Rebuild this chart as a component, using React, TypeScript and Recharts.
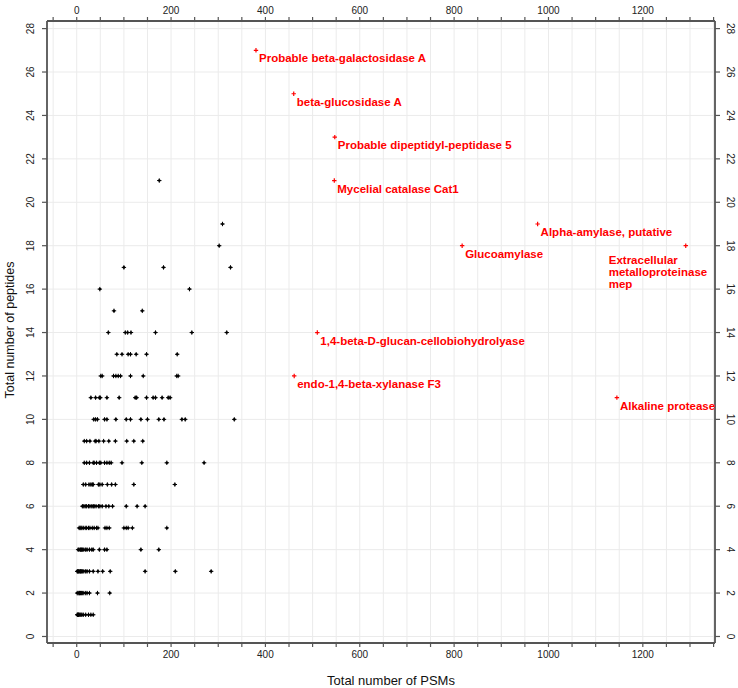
import React from 'react';
import { ScatterChart, Scatter, XAxis, YAxis, CartesianGrid } from 'recharts';

// ---------- data ----------
// background proteins: peptide count per row and the PSM counts found in that row
const peptideRows = [21, 19, 18, 17, 16, 15, 14, 13, 12, 11, 10, 9, 8, 7, 6, 5, 4, 3, 2, 1];
const psmsByRow: number[][] = [
  [175],
  [309],
  [302],
  [100, 184, 326],
  [49, 239],
  [79, 139],
  [67, 103, 108, 115, 167, 244, 318],
  [85, 96, 109, 114, 126, 148, 213],
  [51, 54, 78, 83, 88, 93, 114, 141, 212, 215],
  [30, 40, 48, 50, 64, 90, 124, 127, 148, 162, 167, 181, 194, 198],
  [36, 40, 44, 59, 64, 83, 105, 114, 136, 150, 174, 185, 223, 230, 334],
  [16, 21, 28, 39, 41, 47, 57, 68, 82, 106, 121, 140],
  [16, 21, 27, 35, 37, 42, 48, 51, 59, 64, 69, 73, 96, 138, 191, 270],
  [14, 19, 26, 30, 33, 35, 46, 49, 54, 65, 74, 82, 121, 208],
  [12, 15, 18, 21, 25, 28, 32, 35, 37, 41, 46, 49, 54, 62, 68, 76, 105, 128, 145],
  [5, 7, 9, 11, 14, 18, 21, 25, 28, 33, 37, 42, 45, 60, 64, 69, 100, 105, 109, 118, 191],
  [3, 5, 8, 10, 12, 15, 19, 22, 27, 32, 35, 48, 59, 64, 136, 174],
  [1, 2, 4, 5, 7, 8, 10, 12, 15, 19, 22, 27, 35, 45, 55, 71, 145, 209, 285],
  [1, 3, 5, 6, 8, 10, 12, 15, 19, 22, 27, 44, 70],
  [1, 2, 3, 4, 5, 7, 9, 11, 14, 19, 25, 30, 35],
];

// highlighted proteins
const proteinNames = [
  'Probable beta-galactosidase A',
  'beta-glucosidase A',
  'Probable dipeptidyl-peptidase 5',
  'Mycelial catalase Cat1',
  'Alpha-amylase, putative',
  'Glucoamylase',
  'Extracellular metalloproteinase mep',
  '1,4-beta-D-glucan-cellobiohydrolyase',
  'endo-1,4-beta-xylanase F3',
  'Alkaline protease',
];
const proteinPsms = [380, 460, 547, 546, 977, 817, 1291, 510, 461, 1145];
const proteinPeptides = [27, 25, 23, 21, 19, 18, 18, 14, 12, 11];

const xTicks = [
  -50, 0, 50, 100, 150, 200, 250, 300, 350, 400, 450, 500, 550, 600, 650, 700,
  750, 800, 850, 900, 950, 1000, 1050, 1100, 1150, 1200, 1250, 1300, 1350,
];
const xLabelled = [0, 200, 400, 600, 800, 1000, 1200];
const yTicks = [0, 2, 4, 6, 8, 10, 12, 14, 16, 18, 20, 22, 24, 26, 28];

const xTitle = 'Total number of PSMs';
const yTitle = 'Total number of peptides';

// ---------- derived tables ----------
const blackData = peptideRows.flatMap((p, i) => psmsByRow[i].map((x) => ({ psms: x, peptides: p })));
const redData = proteinNames.map((name, i) => ({ psms: proteinPsms[i], peptides: proteinPeptides[i], name }));

// ---------- styling ----------
const FONT = '"Liberation Sans", Arial, sans-serif';
const AXIS_COLOR = '#555555';
const GRID_COLOR = '#ebebeb';
const RED = '#ff0000';

const labelLayout: Record<string, { lines: string[]; dx: number; dy: number }> = {
  'Extracellular metalloproteinase mep': {
    lines: ['Extracellular', 'metalloproteinase', 'mep'],
    dx: -77,
    dy: 18,
  },
};

const BlackMarker = (props: any) => {
  const { cx, cy } = props;
  if (cx == null || cy == null) return null;
  return (
    <g>
      <path
        d={`M${cx - 2.2},${cy}H${cx + 2.2}M${cx},${cy - 2.2}V${cy + 2.2}`}
        stroke="#000"
        strokeWidth={1}
      />
      <circle cx={cx} cy={cy} r={1.3} fill="#000" />
    </g>
  );
};

const RedMarker = (props: any) => {
  const { cx, cy } = props;
  if (cx == null || cy == null) return null;
  const name: string = props.payload?.name ?? props.name ?? '';
  const layout = labelLayout[name];
  const lines = layout ? layout.lines : [name];
  const dx = layout ? layout.dx : 3;
  const dy = layout ? layout.dy : 12;
  return (
    <g>
      <path
        d={`M${cx - 2.2},${cy}H${cx + 2.2}M${cx},${cy - 2.2}V${cy + 2.2}`}
        stroke={RED}
        strokeWidth={1.2}
      />
      {lines.map((ln, k) => (
        <text
          key={k}
          x={cx + dx}
          y={cy + dy + k * 12}
          fill={RED}
          fontFamily={FONT}
          fontWeight="bold"
          fontSize={11.5}
        >
          {ln}
        </text>
      ))}
    </g>
  );
};

const XTick = (props: any) => {
  const { x, y, payload, orientation } = props;
  const v = payload?.value;
  if (!xLabelled.includes(v)) return null;
  const ty = orientation === 'top' ? y - 1 : y + 9;
  return (
    <text x={x} y={ty} textAnchor="middle" fontFamily={FONT} fontSize={10} fill="#222">
      {String(v)}
    </text>
  );
};

const YTick = (props: any) => {
  const { y, payload, orientation } = props;
  const v = payload?.value;
  const cx = orientation === 'right' ? 730 : 30.5;
  const rot = orientation === 'right' ? 90 : -90;
  return (
    <text
      x={cx}
      y={y}
      transform={`rotate(${rot}, ${cx}, ${y})`}
      textAnchor="middle"
      dominantBaseline="central"
      fontFamily={FONT}
      fontSize={10}
      fill="#222"
    >
      {String(v)}
    </text>
  );
};

const XTitle = () => (
  <text x={391} y={685} textAnchor="middle" fontFamily={FONT} fontSize={13} fill="#111">
    {xTitle}
  </text>
);

const YTitle = () => (
  <text
    x={10}
    y={330}
    transform="rotate(-90, 10, 330)"
    textAnchor="middle"
    dominantBaseline="central"
    fontFamily={FONT}
    fontSize={12.5}
    fill="#111"
  >
    {yTitle}
  </text>
);

const xDomain: [number, number] = [-63, 1353];
const yDomain: [number, number] = [-0.3, 28.35];

export default function App() {
  return (
    <div style={{ position: 'absolute', left: 0, top: 0, width: 738, height: 688, background: '#fff' }}>
      <ScatterChart width={738} height={688} margin={{ top: 0, right: 0, bottom: 0, left: 0 }}>
        <CartesianGrid stroke={GRID_COLOR} strokeWidth={1} xAxisId="b" yAxisId="l" />
        <XAxis
          xAxisId="b"
          type="number"
          dataKey="psms"
          orientation="bottom"
          domain={xDomain}
          allowDataOverflow
          ticks={xTicks}
          interval={0}
          height={45}
          tickSize={4}
          tickMargin={2}
          axisLine={{ stroke: AXIS_COLOR, strokeWidth: 1.8 }}
          tickLine={{ stroke: AXIS_COLOR, strokeWidth: 1.2 }}
          tick={<XTick />}
          label={<XTitle />}
        />
        <XAxis
          xAxisId="t"
          type="number"
          dataKey="psms"
          orientation="top"
          domain={xDomain}
          allowDataOverflow
          ticks={xTicks}
          interval={0}
          height={21}
          tickSize={4}
          tickMargin={2}
          axisLine={{ stroke: AXIS_COLOR, strokeWidth: 1.8 }}
          tickLine={{ stroke: AXIS_COLOR, strokeWidth: 1.2 }}
          tick={<XTick />}
        />
        <YAxis
          yAxisId="l"
          type="number"
          dataKey="peptides"
          orientation="left"
          domain={yDomain}
          allowDataOverflow
          ticks={yTicks}
          interval={0}
          width={47}
          tickSize={5}
          tickMargin={2}
          axisLine={{ stroke: AXIS_COLOR, strokeWidth: 1.8 }}
          tickLine={{ stroke: AXIS_COLOR, strokeWidth: 1.2 }}
          tick={<YTick />}
          label={<YTitle />}
        />
        <YAxis
          yAxisId="r"
          type="number"
          dataKey="peptides"
          orientation="right"
          domain={yDomain}
          allowDataOverflow
          ticks={yTicks}
          interval={0}
          width={23}
          tickSize={5}
          tickMargin={2}
          axisLine={{ stroke: AXIS_COLOR, strokeWidth: 1.8 }}
          tickLine={{ stroke: AXIS_COLOR, strokeWidth: 1.2 }}
          tick={<YTick />}
        />
        <Scatter
          xAxisId="b"
          yAxisId="l"
          data={blackData}
          shape={<BlackMarker />}
          isAnimationActive={false}
        />
        <Scatter
          xAxisId="b"
          yAxisId="l"
          data={redData}
          shape={<RedMarker />}
          isAnimationActive={false}
        />
      </ScatterChart>
    </div>
  );
}
